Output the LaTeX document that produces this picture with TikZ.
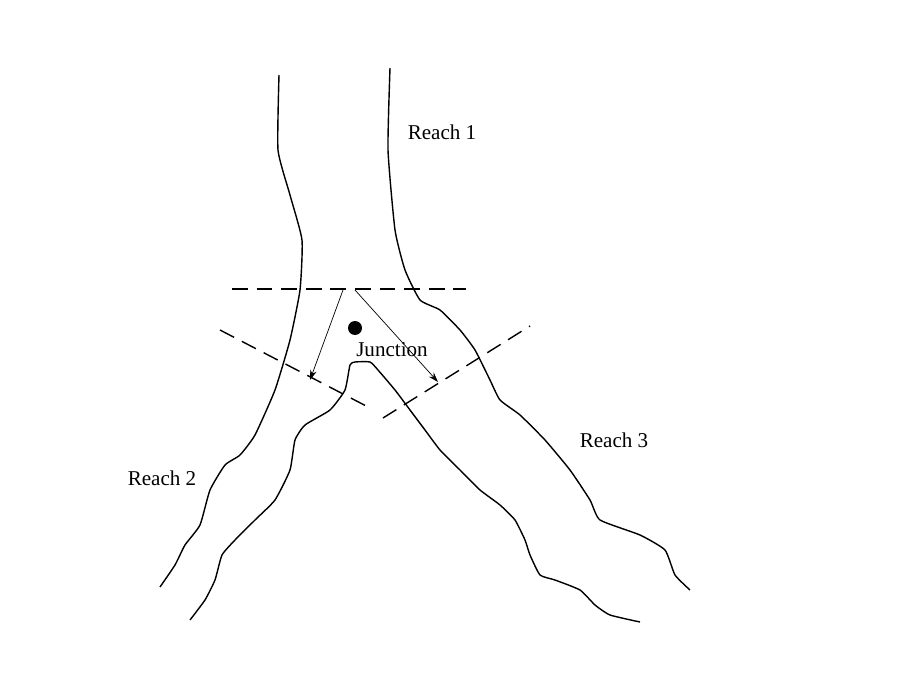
\documentclass[tikz,border=0pt]{standalone}
\usepackage{fontspec}
\setmainfont{Liberation Serif}
\usetikzlibrary{arrows.meta}
\begin{document}
\begin{tikzpicture}[x=0.02cm,y=-0.02cm,
  bank/.style={thick, line join=round},
  cut/.style={thick, dash pattern=on 9pt off 5pt},
  dir/.style={-{Stealth[length=2mm,width=1.3mm]}, thin},
  lbl/.style={font=\large}
]
\useasboundingbox (0,0) rectangle (900,696);
% banks
\draw[bank] plot[smooth, tension=0.3] coordinates {(279,75) (278,150) (290,195) (302,240) (300,290) (290,340) (275,390) (255,435) (240,455) (225,465) (210,490) (200,525) (185,545) (175,565) (160,587)};
\draw[bank] plot[smooth, tension=0.3] coordinates {(390,68) (388,150) (395,230) (405,270) (420,300) (440,310) (460,330) (475,350) (490,380) (500,400) (520,415) (545,440) (570,470) (590,500) (600,520) (640,535) (665,550) (675,575) (690,590)};
\draw[bank] plot[smooth, tension=0.3] coordinates {(190,620) (205,600) (215,580) (222,555) (235,540) (255,520) (275,500) (290,470) (295,440) (305,425) (330,410) (345,390) (350,365) (355,362) (370,362) (378,370) (395,390) (410,410) (425,430) (440,450) (460,470) (480,490) (500,505) (515,520) (525,540) (530,555) (540,575) (555,580) (580,590) (595,605) (610,615) (640,622)};
% junction boundaries
\coordinate (c1a) at (232,289); \coordinate (c1b) at (466,289);
\coordinate (c2a) at (220,330); \coordinate (c2b) at (370,408);
\coordinate (c3a) at (383,418); \coordinate (c3b) at (530,326);
\draw[cut] (c1a) -- (c1b);
\draw[cut] (c2a) -- (c2b);
\draw[cut] (c3a) -- (c3b);
\coordinate (s2) at (343,290); \coordinate (e2) at (310,380);
\coordinate (s3) at (355,290); \coordinate (e3) at (438,382);
\draw[dir] (s2) -- (e2);
\draw[dir] (s3) -- (e3);
\fill (355,328) circle (7);
\node[lbl] (junction) at (392,350) {Junction};
\node[lbl] (reach1) at (442,132) {Reach 1};
\node[lbl] (reach2) at (162,478) {Reach 2};
\node[lbl] (reach3) at (614,440) {Reach 3};
\end{tikzpicture}
\end{document}
